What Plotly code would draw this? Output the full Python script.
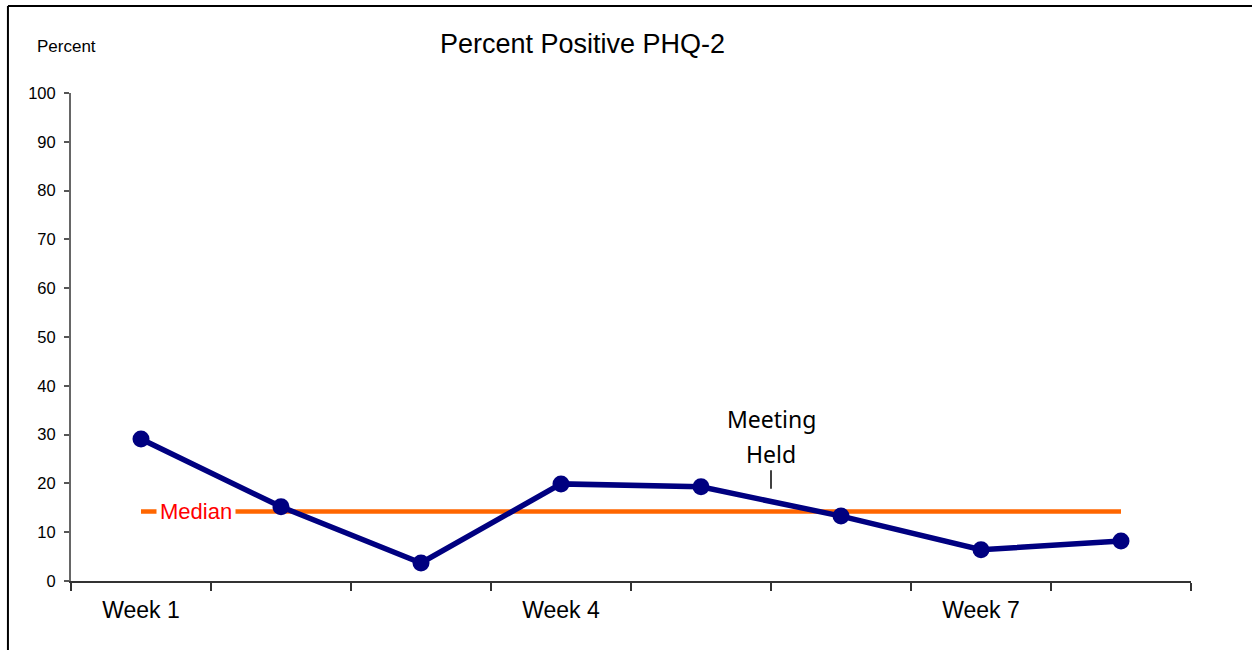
import numpy as np
import plotly.graph_objects as go

# Weekly percent of patients screening positive on the PHQ-2
weeks = ["Week 1", "Week 2", "Week 3", "Week 4", "Week 5", "Week 6", "Week 7", "Week 8"]
percent_positive = [29.1, 15.2, 3.7, 19.9, 19.3, 13.3, 6.4, 8.2]
shown_labels = ["Week 1", "", "", "Week 4", "", "", "Week 7", ""]
y_ticks = list(range(0, 101, 10))

median_value = float(np.median(percent_positive))

NAVY = "#000080"
ORANGE = "#FF6600"
FONT = "Liberation Sans, Arial, sans-serif"

fig = go.Figure()

# Median reference line
fig.add_trace(go.Scatter(
    x=[weeks[0], weeks[-1]], y=[median_value, median_value],
    mode="lines", line=dict(color=ORANGE, width=4.5),
    hoverinfo="skip", showlegend=False,
))

# Weekly series
fig.add_trace(go.Scatter(
    x=weeks, y=percent_positive, mode="lines+markers",
    line=dict(color=NAVY, width=5.5),
    marker=dict(color=NAVY, size=17),
    cliponaxis=False, showlegend=False,
))

# Meeting marker between weeks 5 and 6
fig.add_shape(type="line", xref="x", yref="y",
              x0=4.5, x1=4.5, y0=18.9, y1=22.7,
              line=dict(color="black", width=1.5))

annotations = [
    dict(text="Percent Positive PHQ-2", xref="paper", yref="paper",
         x=0.457, y=1.1, xanchor="center", yanchor="middle",
         showarrow=False, font=dict(family=FONT, size=27, color="black")),
    dict(text="Percent", xref="paper", yref="paper",
         x=-0.0321, y=1.0943, xanchor="left", yanchor="middle",
         showarrow=False, font=dict(family=FONT, size=17, color="black")),
    dict(text="Median", xref="paper", yref="y",
         x=0.1116, y=median_value, xanchor="center", yanchor="middle",
         showarrow=False, bgcolor="white", borderpad=3,
         font=dict(family=FONT, size=22, color="#FF0000")),
    dict(text="Meeting", xref="x", yref="paper",
         x=4.5, y=(581 - 419) / 488, xanchor="center", yanchor="middle",
         showarrow=False, font=dict(family="Noto Sans", size=23, color="black")),
    dict(text="Held", xref="x", yref="paper",
         x=4.5, y=(581 - 454) / 488, xanchor="center", yanchor="middle",
         showarrow=False, font=dict(family="Noto Sans", size=23, color="black")),
]

# Frame lines along the top and left edges of the page
shapes_frame = [
    dict(type="line", xref="paper", yref="paper",
         x0=-0.0563, x1=1.06, y0=1.1783, y1=1.1783,
         line=dict(color="black", width=2)),
    dict(type="line", xref="paper", yref="paper",
         x0=-0.0563, x1=-0.0563, y0=1.1783, y1=-0.15,
         line=dict(color="black", width=2)),
]
for s in shapes_frame:
    fig.add_shape(**s)

fig.update_layout(
    width=1252, height=650,
    margin=dict(l=71, r=61, t=93, b=69),
    paper_bgcolor="white", plot_bgcolor="white",
    annotations=annotations,
    font=dict(family=FONT, color="black"),
)

fig.update_xaxes(
    type="category", categoryorder="array", categoryarray=weeks,
    tickmode="array", tickvals=weeks, ticktext=shown_labels,
    tickson="boundaries", ticks="outside", ticklen=8, tickwidth=1.5,
    tickcolor="#333333", showline=True, linecolor="#333333", linewidth=1.5,
    showgrid=False, zeroline=False, range=[-0.5, 7.5],
    ticklabelstandoff=8,
    tickfont=dict(family=FONT, size=23, color="black"),
)

fig.update_yaxes(
    range=[0, 100], tickmode="array", tickvals=y_ticks,
    ticks="outside", ticklen=5, tickwidth=1.5, tickcolor="#555555",
    showline=True, linecolor="#666666", linewidth=2,
    showgrid=False, zeroline=False, ticklabelstandoff=5,
    tickfont=dict(family=FONT, size=16.5, color="black"),
)

fig.write_html("out.html")
